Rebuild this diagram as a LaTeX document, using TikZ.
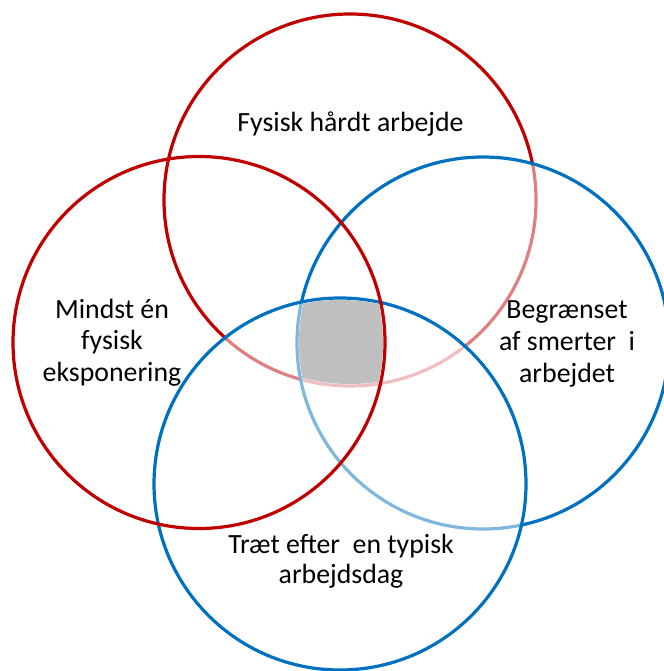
\documentclass[tikz,border=0pt]{standalone}
\usepackage{fontspec}
\setmainfont{Carlito}
\definecolor{vred}{HTML}{C00000}
\definecolor{vblue}{HTML}{0070C0}
\definecolor{vgray}{HTML}{BFBFBF}
\tikzset{
  redring/.style={draw=vred, line width=3.2pt},
  bluering/.style={draw=vblue, line width=3.2pt, fill=white, fill opacity=0.5, draw opacity=1},
  lbl/.style={align=center, anchor=base, inner sep=0pt, text=black, font=\fontsize{27.8pt}{31.7pt}\selectfont}
}
\begin{document}
\begin{tikzpicture}[x=1pt,y=-1pt]
\useasboundingbox (0,0) rectangle (663,671);
\coordinate (cT) at (350,200);
\coordinate (cL) at (199,342.5);
\coordinate (cR) at (483,343);
\coordinate (cB) at (340,484);
% top circle
\draw[redring] (cT) circle[radius=186pt];
% right circle
\path[bluering] (cR) circle[radius=186pt];
% bottom circle
\path[bluering] (cB) circle[radius=186pt];
% left circle
\draw[redring] (cL) circle[radius=186pt];
% common region
\begin{scope}
  \clip (cT) circle[radius=184pt];
  \clip (cL) circle[radius=184pt];
  \clip (cR) circle[radius=184pt];
  \clip (cB) circle[radius=184pt];
  \fill[vgray] (250,250) rectangle (450,450);
\end{scope}
% labels (base anchor = baseline of the last line)
\node[lbl] (tT) at (350.5,132) {Fysisk hårdt arbejde};
\node[lbl] (tL) at (112,381.5) {Mindst én\\fysisk\\eksponering};
\node[lbl] (tR) at (567,382) {Begrænset\\af smerter\ \ i\\arbejdet};
\node[lbl, font=\fontsize{27.8pt}{30pt}\selectfont] (tB) at (341,583) {Træt efter\ \ en typisk\\arbejdsdag};
\end{tikzpicture}
\end{document}
